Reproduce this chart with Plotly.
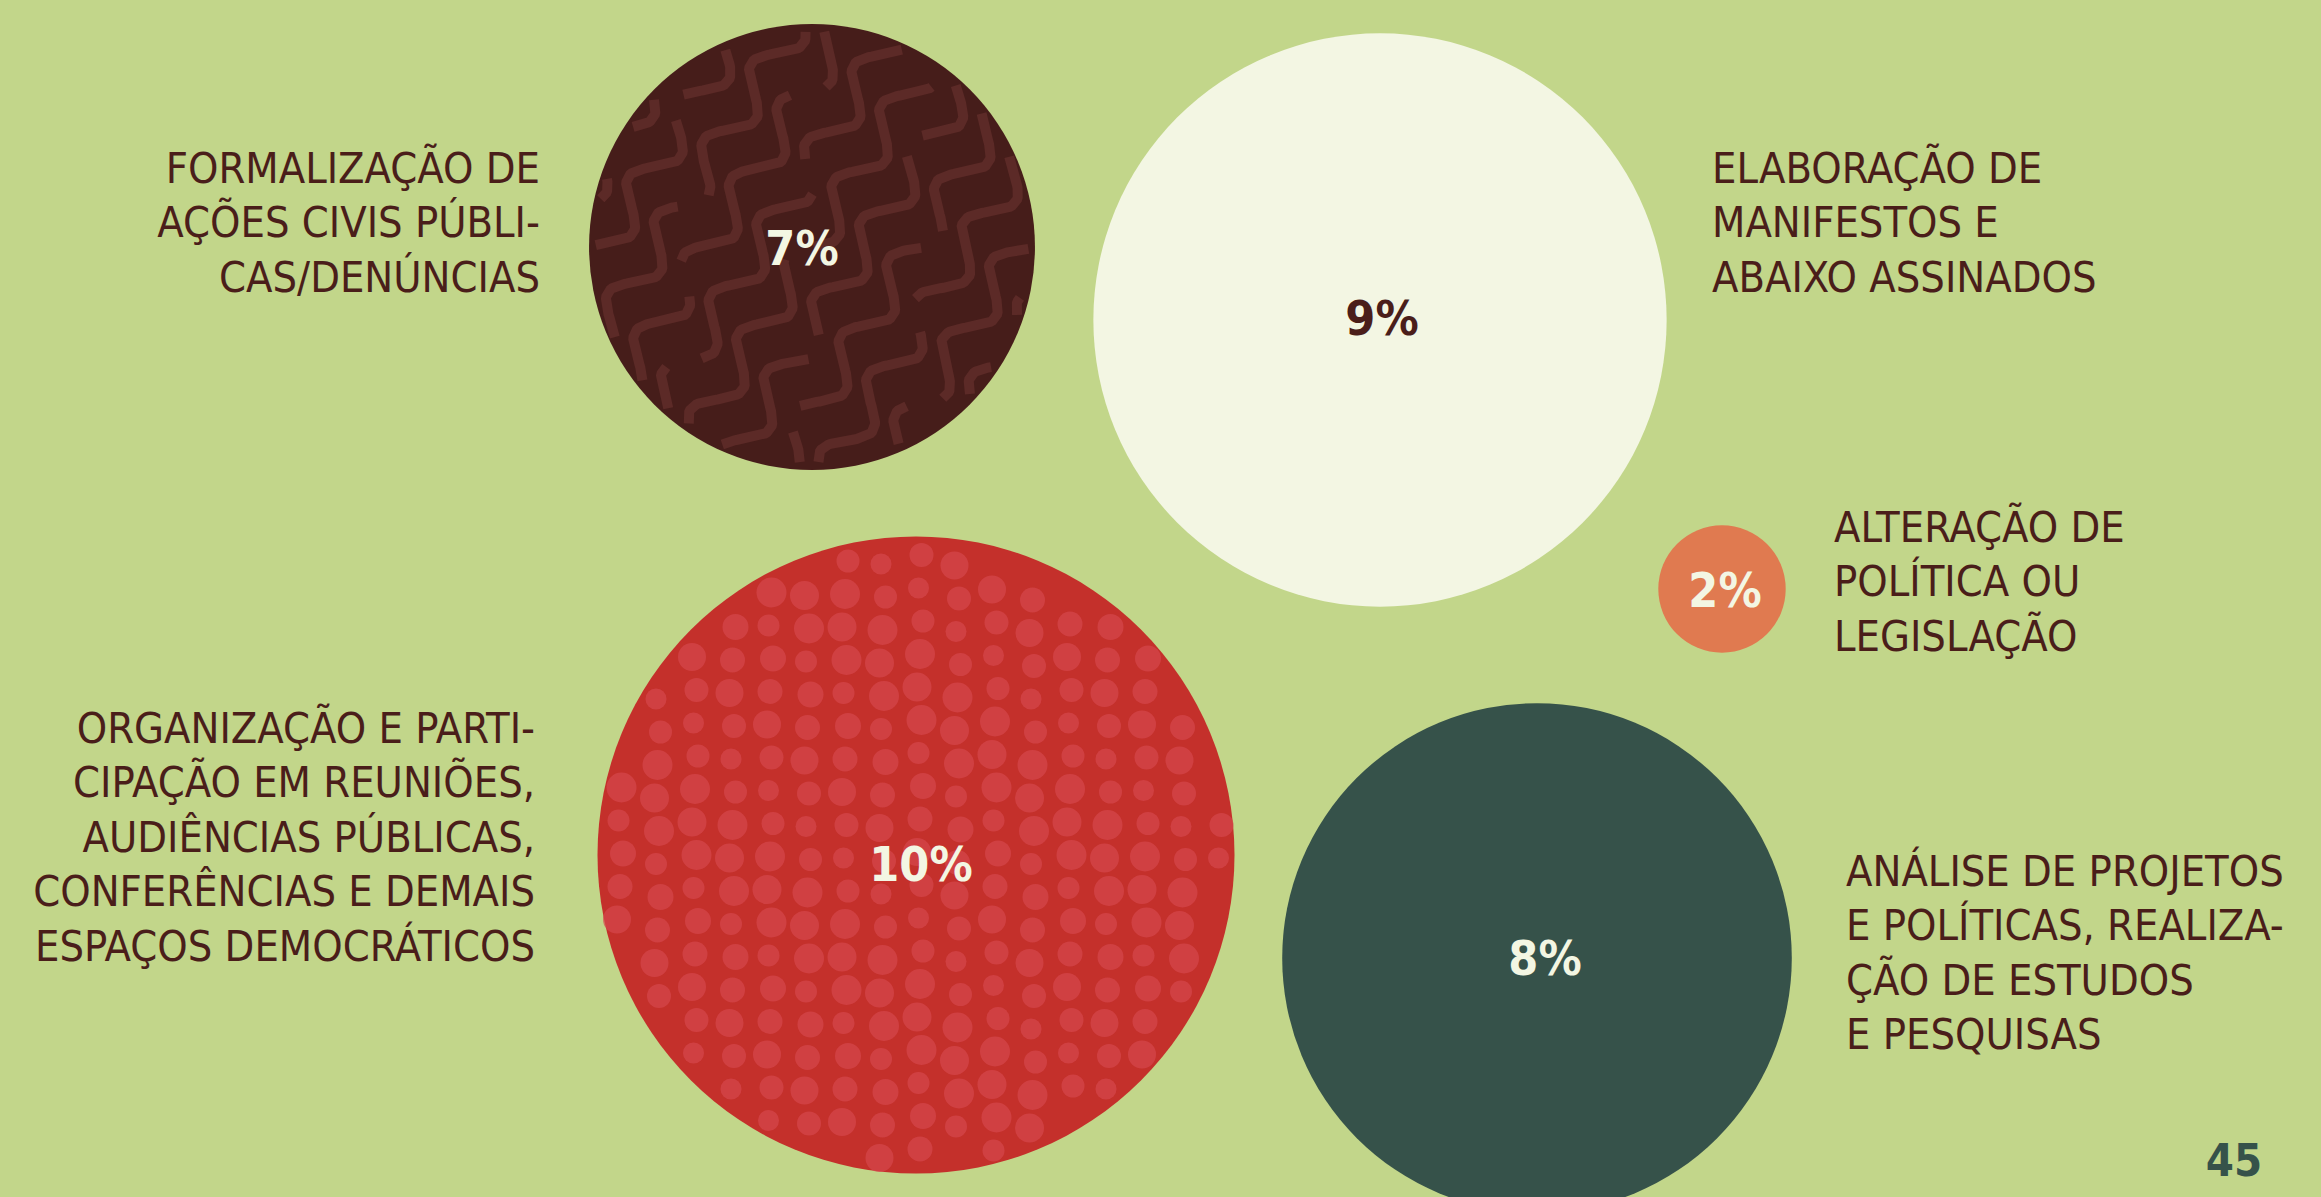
import numpy as np
import plotly.graph_objects as go

# ---------------- data ----------------
categories = [
    ["FORMALIZAÇÃO DE", "AÇÕES CIVIS PÚBLI-", "CAS/DENÚNCIAS"],
    ["ELABORAÇÃO DE", "MANIFESTOS E", "ABAIXO ASSINADOS"],
    ["ALTERAÇÃO DE", "POLÍTICA OU", "LEGISLAÇÃO"],
    ["ORGANIZAÇÃO E PARTI-", "CIPAÇÃO EM REUNIÕES,", "AUDIÊNCIAS PÚBLICAS,",
     "CONFERÊNCIAS E DEMAIS", "ESPAÇOS DEMOCRÁTICOS"],
    ["ANÁLISE DE PROJETOS", "E POLÍTICAS, REALIZA-", "ÇÃO DE ESTUDOS", "E PESQUISAS"],
]
values = [7, 9, 2, 10, 8]
page_number = "45"

# ---------------- layout / style ----------------
W, H = 2321, 1197
BG = "#C2D68A"
TEXT = "#4A1E1A"
circle_x = [812, 1380, 1722, 916, 1537]
circle_y = [247, 320, 589, 855, 958]
pct_x = [802, 1382, 1725, 921, 1545]
pct_y = [248, 318, 590, 864, 958]
circle_colors = ["#461D1A", "#F3F6E3", "#E07A50", "#C4302B", "#36524A"]
pct_colors = ["#F3F6E3", "#4A1E1A", "#F3F6E3", "#F3F6E3", "#F3F6E3"]
px_per_unit = 63.7  # diameter in px per percentage point

label_anchor_x = [540, 1712, 1834, 535, 1846]
label_top_y = [172, 172, 531, 732, 875]
label_align = ["right", "left", "left", "right", "left"]
line_gap = 54.5
text_dy = 5  # vertical correction so cap-height centre lands on target

FONT = "DejaVu Sans Condensed, Liberation Sans Narrow, Roboto, sans-serif"

fig = go.Figure()

# circles sized by value
fig.add_trace(go.Scatter(
    x=circle_x, y=circle_y, mode="markers",
    marker=dict(size=values, sizemode="diameter", sizeref=1 / px_per_unit,
                color=circle_colors, line=dict(width=0), opacity=1),
    hoverinfo="skip", showlegend=False,
))

# ---- texture: dots on the 10% circle ----
i_red = 3
cx, cy = circle_x[i_red], circle_y[i_red]
R = values[i_red] * px_per_unit / 2
dot_sizes_cycle = [28, 23, 30, 25, 21, 29, 26, 24, 30, 22]
dxs, dys, dss = [], [], []
sx, sy = 37.5, 33.0
for a in range(-10, 11):
    for b in range(-11, 12):
        ox = ((a * 7 + b * 3) % 5 - 2) * 1.5
        oy = ((a * 3 + b * 5) % 5 - 2) * 1.5
        px = cx + a * sx + ox + 4
        py = cy + b * sy + oy + (a % 2) * 6
        s = dot_sizes_cycle[(a * 3 + b * 7) % len(dot_sizes_cycle)]
        if np.hypot(px - cx, py - cy) + s * 0.45 < R:
            dxs.append(px); dys.append(py); dss.append(s)
fig.add_trace(go.Scatter(
    x=dxs, y=dys, mode="markers",
    marker=dict(size=dss, color="#D6474D", line=dict(width=0)),
    hoverinfo="skip", showlegend=False,
))

# ---- texture: waves on the 7% circle ----
i_br = 0
cx, cy = circle_x[i_br], circle_y[i_br]
R = values[i_br] * px_per_unit / 2
th = np.deg2rad(58)
d = np.array([np.cos(th), -np.sin(th)])
n = np.array([np.sin(th), np.cos(th)])
wx, wy = [], []
spacing, amp, lam = 44, 17, 90
seg_len, gap = 200, 24
t = np.arange(-R - 60, R + 60, 2.0)
for k in range(-7, 8):
    phase = k * 1.3
    shift = (k * 71) % (seg_len + gap)
    prev_none = True
    for tt in t:
        pos = (tt + shift) % (seg_len + gap)
        off = amp * np.sin(2 * np.pi * tt / lam + phase)
        px = cx + k * spacing * n[0] + tt * d[0] + off * n[0]
        py = cy + k * spacing * n[1] + tt * d[1] + off * n[1]
        if pos > seg_len or np.hypot(px - cx, py - cy) > R - 6:
            if not prev_none:
                wx.append(None); wy.append(None)
                prev_none = True
            continue
        wx.append(float(px)); wy.append(float(py))
        prev_none = False
    if not prev_none:
        wx.append(None); wy.append(None)
fig.add_trace(go.Scatter(
    x=wx, y=wy, mode="lines",
    line=dict(color="#5C2A27", width=10),
    connectgaps=False, hoverinfo="skip", showlegend=False,
))

# percentage labels
fig.add_trace(go.Scatter(
    x=pct_x, y=[v + text_dy for v in pct_y], mode="text",
    text=[f"{v}%" for v in values], textposition="middle center",
    textfont=dict(family=FONT, size=48, color=pct_colors, weight="bold"),
    hoverinfo="skip", showlegend=False,
))

# category labels
for lines, ax, ty, al in zip(categories, label_anchor_x, label_top_y, label_align):
    fig.add_trace(go.Scatter(
        x=[ax] * len(lines), y=[ty + j * line_gap for j in range(len(lines))],
        mode="text", text=lines,
        textposition="middle left" if al == "right" else "middle right",
        textfont=dict(family=FONT, size=43, color=TEXT),
        hoverinfo="skip", showlegend=False,
    ))

# page number
fig.add_trace(go.Scatter(
    x=[2234], y=[1160 + text_dy], mode="text", text=[page_number],
    textposition="middle center",
    textfont=dict(family=FONT, size=45, color="#36524A", weight="bold"),
    hoverinfo="skip", showlegend=False,
))

fig.update_layout(
    width=W, height=H, margin=dict(l=0, r=0, t=0, b=0),
    paper_bgcolor=BG, plot_bgcolor=BG,
    xaxis=dict(range=[0, W], visible=False, fixedrange=True),
    yaxis=dict(range=[H, 0], visible=False, fixedrange=True),
    showlegend=False,
)
fig.write_html(
    "out.html",
    config={"displayModeBar": False},
    post_script="document.body.style.margin='0';document.body.style.overflow='hidden';document.body.style.background='" + BG + "';",
)
